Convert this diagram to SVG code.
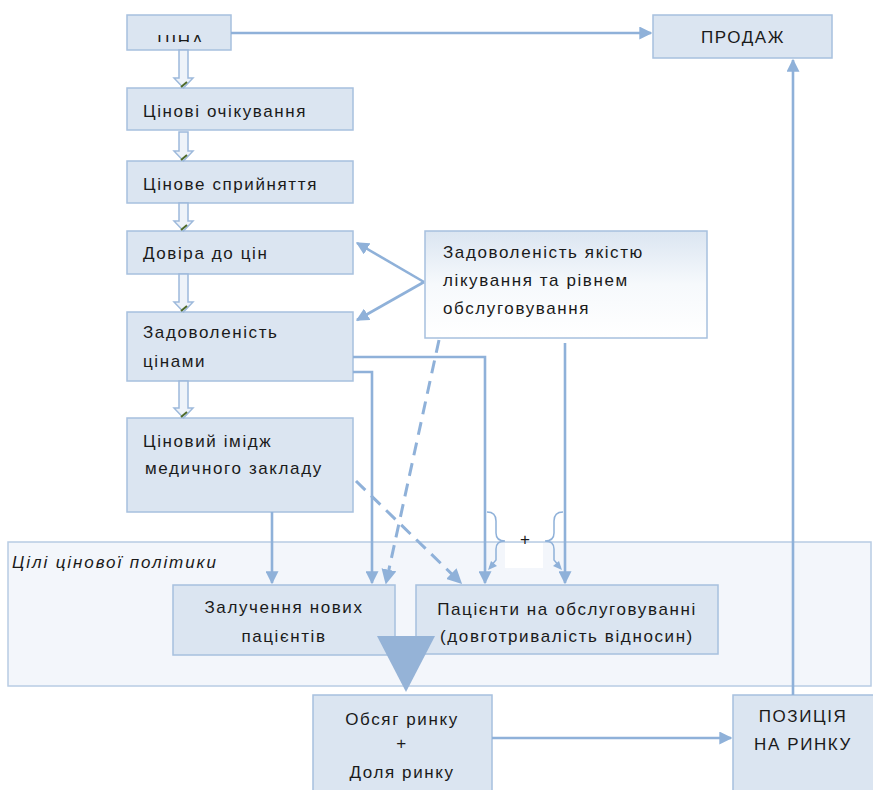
<svg xmlns="http://www.w3.org/2000/svg" width="873" height="790" viewBox="0 0 873 790">
<style>
.box{fill:#dbe5f1;stroke:#a7c0de;stroke-width:1.5}
.t{font-family:"Liberation Sans",Arial,sans-serif;font-size:17px;fill:#1a1a1a;letter-spacing:1.6px}
.c{text-anchor:middle}
.ln{fill:none;stroke:#8fb1d9;stroke-width:2.6}
.ds{fill:none;stroke:#8fb1d9;stroke-width:3;stroke-dasharray:13 8}
.ba{fill:#eef3f9;stroke:#9db9db;stroke-width:1.5}
.tip{stroke:#4f6b2a;stroke-width:2}
</style>
<defs>
<marker id="ar" viewBox="0 0 10 10" refX="9" refY="5" markerWidth="5" markerHeight="5" orient="auto" markerUnits="strokeWidth">
<path d="M0,0 L10,5 L0,10 z" fill="#8fb1d9"/>
</marker>
<linearGradient id="g1" x1="0" y1="0" x2="0" y2="1">
<stop offset="0" stop-color="#dbe5f1"/>
<stop offset="0.5" stop-color="#f6f9fc"/>
<stop offset="1" stop-color="#ffffff"/>
</linearGradient>
<clipPath id="cp"><rect x="120" y="10" width="120" height="32"/></clipPath>
</defs>
<rect width="873" height="790" fill="#ffffff"/>

<g id="region">
<rect x="8" y="542" width="863" height="144" fill="#f3f6fb" stroke="#b8cce4" stroke-width="1.5"/>
<text class="t" x="12" y="568" font-style="italic" style="letter-spacing:1.9px">Цілі цінової політики</text>
</g>

<g id="tsina"><rect class="box" x="127" y="15" width="104" height="35"/>
<text class="t c" x="181" y="47" clip-path="url(#cp)">ЦІНА</text></g>
<g id="prodazh"><rect class="box" x="653" y="15" width="179" height="43"/>
<text class="t c" x="743" y="43">ПРОДАЖ</text></g>
<g id="ochik"><rect class="box" x="127" y="88" width="226" height="42"/>
<text class="t" x="143" y="117">Цінові очікування</text></g>
<g id="spryin"><rect class="box" x="127" y="161" width="226" height="42"/>
<text class="t" x="143" y="190">Цінове сприйняття</text></g>
<g id="dovira"><rect class="box" x="127" y="231" width="226" height="43"/>
<text class="t" x="143" y="259">Довіра до цін</text></g>
<g id="zadov"><rect class="box" x="127" y="312" width="226" height="69"/>
<text class="t" x="143" y="338">Задоволеність</text>
<text class="t" x="143" y="367">цінами</text></g>
<g id="imidzh"><rect class="box" x="127" y="418" width="226" height="94"/>
<text class="t" x="143" y="447">Ціновий імідж</text>
<text class="t" x="145" y="474">медичного закладу</text></g>
<g id="yakist"><rect x="425" y="231" width="282" height="107" fill="url(#g1)" stroke="#a7c0de" stroke-width="1.5"/>
<text class="t" x="443" y="258">Задоволеність якістю</text>
<text class="t" x="443" y="286">лікування та рівнем</text>
<text class="t" x="443" y="314">обслуговування</text></g>
<g id="zaluch"><rect class="box" x="173" y="585" width="222" height="70"/>
<text class="t c" x="284" y="613">Залучення нових</text>
<text class="t c" x="284" y="642">пацієнтів</text></g>
<g id="pats"><rect class="box" x="416" y="585" width="302" height="69"/>
<text class="t c" x="567" y="615">Пацієнти на обслуговуванні</text>
<text class="t c" x="567" y="642">(довготривалість відносин)</text></g>
<g id="obsyag"><rect class="box" x="313" y="695" width="179" height="100"/>
<text class="t c" x="402" y="725">Обсяг ринку</text>
<text class="t c" x="402" y="749">+</text>
<text class="t c" x="402" y="778">Доля ринку</text></g>
<g id="pozytsia"><rect class="box" x="733" y="695" width="145" height="100"/>
<text class="t c" x="803" y="722">ПОЗИЦІЯ</text>
<text class="t c" x="803" y="750">НА РИНКУ</text></g>

<g id="connectors">
<g>
<polygon class="ba" points="179,50 188,50 188,78 193,78 183.5,88 174,78 179,78"/>
<line class="tip" x1="181" y1="87" x2="187" y2="82"/>
<polygon class="ba" points="179,132 188,132 188,151 193,151 183.5,161 174,151 179,151"/>
<line class="tip" x1="181" y1="160" x2="187" y2="155"/>
<polygon class="ba" points="179,203 188,203 188,221 193,221 183.5,231 174,221 179,221"/>
<line class="tip" x1="181" y1="230" x2="187" y2="225"/>
<polygon class="ba" points="179,274 188,274 188,302 193,302 183.5,312 174,302 179,302"/>
<line class="tip" x1="181" y1="311" x2="187" y2="306"/>
<polygon class="ba" points="179,381 188,381 188,408 193,408 183.5,418 174,408 179,408"/>
<line class="tip" x1="181" y1="417" x2="187" y2="412"/>
</g>
<path class="ln" d="M231,33 H651" marker-end="url(#ar)"/>
<path class="ln" d="M793,695 V60" marker-end="url(#ar)"/>
<path class="ln" d="M424,282 L357,243" marker-end="url(#ar)"/>
<path class="ln" d="M424,282 L357,320" marker-end="url(#ar)"/>
<path class="ln" d="M353,357 H485 V583" marker-end="url(#ar)"/>
<path class="ln" d="M353,372 H372 V583" marker-end="url(#ar)"/>
<path class="ln" d="M272,512 V583" marker-end="url(#ar)"/>
<path class="ln" d="M565,343 V583" marker-end="url(#ar)"/>
<path class="ds" d="M439,340 L386,583" marker-end="url(#ar)"/>
<path class="ds" d="M356,481 L461,583" marker-end="url(#ar)"/>
<path class="ln" d="M492,738 H731" marker-end="url(#ar)"/>
<path fill="none" stroke="#8fb1d9" stroke-width="1.5" d="M487,512 Q496,512 496,521 V533 Q496,541 505,541 Q496,541 496,549 V560 L490,567"/>
<path fill="#8fb1d9" d="M488,570 L491,561 L497,566 z"/>
<path fill="none" stroke="#8fb1d9" stroke-width="1.5" d="M563,512 Q554,512 554,521 V533 Q554,541 545,541 Q554,541 554,549 V560 L560,567"/>
<path fill="#8fb1d9" d="M562,570 L559,561 L553,566 z"/>
<rect x="505" y="543" width="38" height="25" fill="#ffffff"/>
<text class="t c" x="525" y="545" style="letter-spacing:0">+</text>
<polygon points="377,636 435,636 406,692" fill="#95b3d7"/>
</g>
</svg>
